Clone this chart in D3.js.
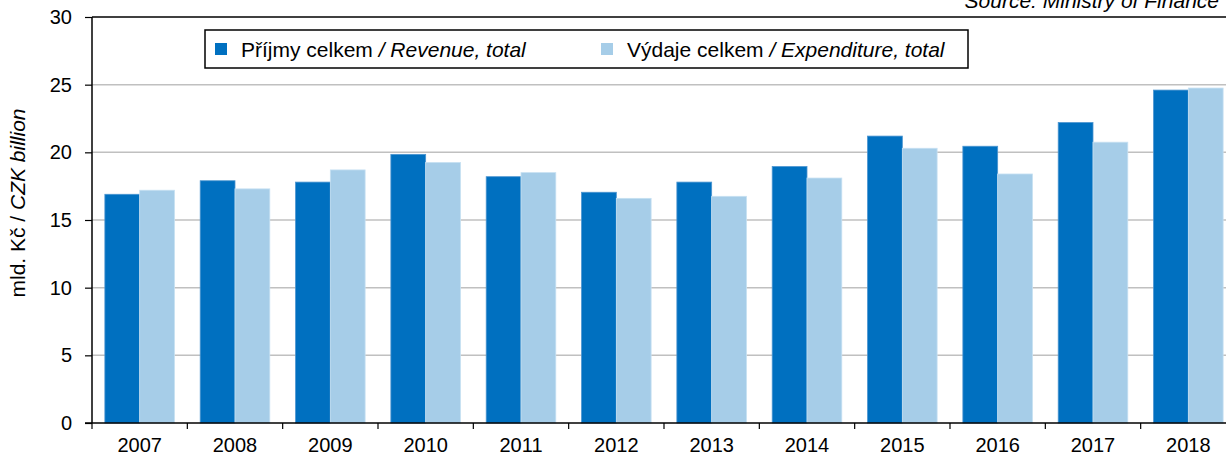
<!doctype html>
<html lang="cs">
<head>
<meta charset="UTF-8">
<title>Příjmy a výdaje</title>
<script src="https://d3js.org/d3.v7.min.js"></script>
<style>
  body { margin: 0; background: #fff; }
  svg { display: block; font-family: "Liberation Sans", Arial, sans-serif; }
</style>
</head>
<body>
<div id="chart"></div>
<script>
  // Data
  const years = ['2007', '2008', '2009', '2010', '2011', '2012', '2013', '2014', '2015', '2016', '2017', '2018'];
  const revenue = [16.9, 17.9, 17.8, 19.85, 18.2, 17.05, 17.8, 18.95, 21.2, 20.45, 22.2, 24.6];
  const expenditure = [17.2, 17.3, 18.7, 19.25, 18.5, 16.6, 16.75, 18.1, 20.3, 18.4, 20.75, 24.75];
  const yTicks = [0, 5, 10, 15, 20, 25, 30];
  const seriesNames = ['Příjmy celkem', 'Výdaje celkem'];
  const seriesNamesEn = ['Revenue, total', 'Expenditure, total'];
  const colors = ['#0070c0', '#a6cde8'];

  const width = 1226, height = 459;
  const margin = { top: 17, left: 92, bottom: 36 };
  const plotW = 1144;
  const plotH = height - margin.top - margin.bottom;

  const svg = d3.select('#chart').append('svg')
    .attr('width', width)
    .attr('height', height);

  const g = svg.append('g')
    .attr('transform', `translate(${margin.left}, ${margin.top})`);

  const xScale = d3.scaleBand()
    .domain(years)
    .range([0, plotW])
    .paddingInner(0.27)
    .paddingOuter(0.135);

  const x1 = d3.scaleBand()
    .domain([0, 1])
    .range([0, xScale.bandwidth()]);

  const yScale = d3.scaleLinear()
    .domain([0, 30])
    .range([plotH, 0]);

  // gridlines
  g.append('g')
    .selectAll('line')
    .data(yTicks.filter(d => d > 0 && d < 30))
    .join('line')
    .attr('x1', 0)
    .attr('x2', plotW)
    .attr('y1', d => yScale(d))
    .attr('y2', d => yScale(d))
    .attr('stroke', '#c0c0c0')
    .attr('stroke-width', 1.5);

  // top border
  g.append('line')
    .attr('x1', 0).attr('x2', plotW)
    .attr('y1', yScale(30)).attr('y2', yScale(30))
    .attr('stroke', '#000').attr('stroke-width', 1.5);

  // bars
  const groups = g.append('g')
    .selectAll('g')
    .data(years)
    .join('g')
    .attr('transform', d => `translate(${xScale(d)}, 0)`);

  groups.selectAll('rect')
    .data((d, i) => [revenue[i], expenditure[i]])
    .join('rect')
    .attr('x', (d, j) => x1(j))
    .attr('width', x1.bandwidth())
    .attr('y', d => yScale(d))
    .attr('height', d => plotH - yScale(d))
    .attr('fill', (d, j) => colors[j])
    .attr('stroke', (d, j) => j === 0 ? '#4b95d0' : '#c6e0f2')
    .attr('stroke-width', 0.8);

  // y axis
  const yAxis = d3.axisLeft(yScale)
    .tickValues(yTicks)
    .tickSize(7)
    .tickPadding(13);
  const yg = g.append('g').call(yAxis);
  yg.select('.domain').attr('stroke', '#000').attr('stroke-width', 1.5).attr('d', `M0,${plotH}V0`);
  yg.selectAll('.tick line').attr('stroke', '#000').attr('stroke-width', 1.2);
  yg.selectAll('.tick text').style('font-size', '20px').attr('fill', '#000');

  // x axis
  const xAxis = d3.axisBottom(xScale)
    .tickSize(0)
    .tickPadding(15);
  const xg = g.append('g')
    .attr('transform', `translate(0, ${plotH})`)
    .call(xAxis);
  xg.select('.domain').attr('stroke', '#000').attr('stroke-width', 1.5).attr('d', `M-7,0H${plotW}`);
  xg.selectAll('.tick text').style('font-size', '20px').attr('fill', '#000');

  const step = xScale.step();
  const bounds = d3.range(years.length + 1).map(i => xScale(years[0]) - xScale.paddingOuter() * step + i * step);
  xg.append('g').selectAll('line')
    .data(bounds)
    .join('line')
    .attr('x1', d => d).attr('x2', d => d)
    .attr('y1', 0).attr('y2', 6)
    .attr('stroke', '#000').attr('stroke-width', 1.2);

  // y label
  const yLabel = svg.append('text')
    .attr('transform', 'translate(25, 203) rotate(-90)')
    .attr('text-anchor', 'middle')
    .style('font-size', '21px');
  yLabel.append('tspan').text('mld. Kč / ');
  yLabel.append('tspan').attr('font-style', 'italic').text('CZK billion');

  // source
  svg.append('text')
    .attr('x', 1219)
    .attr('y', 8)
    .attr('text-anchor', 'end')
    .attr('font-style', 'italic')
    .style('font-size', '21px')
    .text('Source: Ministry of Finance');

  // legend
  const legend = svg.append('g').attr('transform', 'translate(205, 30)');
  legend.append('rect')
    .attr('width', 763).attr('height', 38)
    .attr('fill', '#fff').attr('stroke', '#000').attr('stroke-width', 1.5);
  const legendX = [10, 396];
  seriesNames.forEach((name, i) => {
    const item = legend.append('g').attr('transform', `translate(${legendX[i]}, 0)`);
    item.append('rect')
      .attr('x', 0).attr('y', 13).attr('width', 12).attr('height', 12)
      .attr('fill', colors[i]);
    const t = item.append('text')
      .attr('x', 26).attr('y', 27)
      .style('font-size', '21px');
    t.append('tspan').text(name + ' ');
    t.append('tspan').attr('font-style', 'italic').text('/ ' + seriesNamesEn[i]);
  });
</script>
</body>
</html>
